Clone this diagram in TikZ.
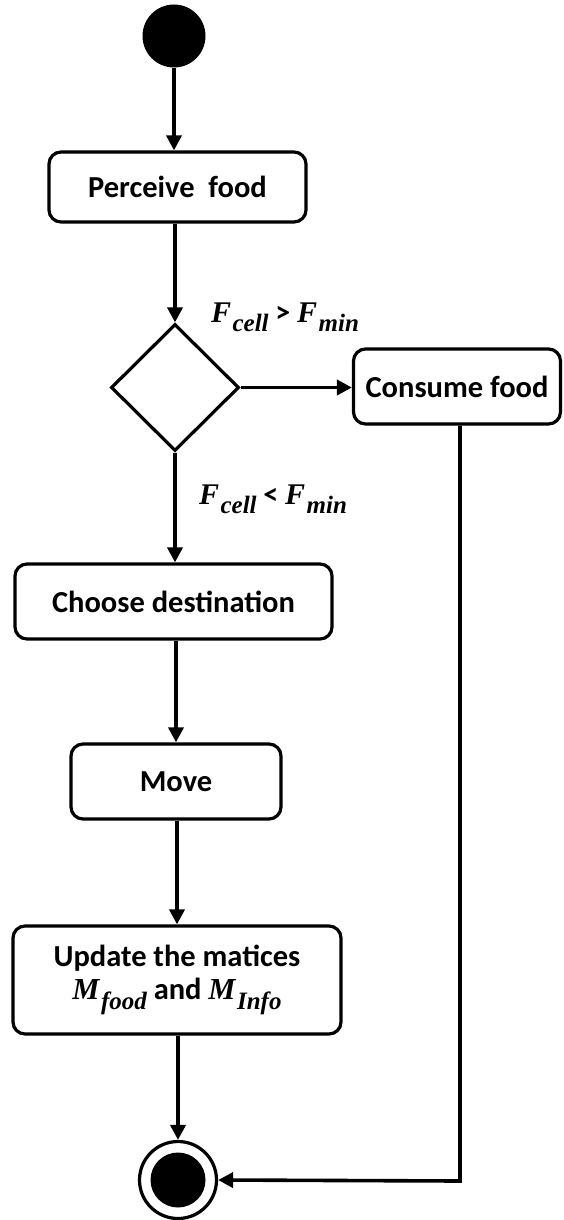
\documentclass[tikz,border=0pt]{standalone}
\usepackage{fontspec}
\setmainfont{Carlito}
\newfontfamily\mathserif{Liberation Serif}
\usetikzlibrary{shapes.geometric,arrows.meta}
\newcommand{\mvar}[2]{{\mathserif\bfseries\itshape #1\kern1.5pt\raisebox{-0.3em}{\fontsize{25}{25}\selectfont #2}}}
\tikzset{
  box/.style={draw, line width=3.2pt, rounded corners=12pt, align=center,
    font=\fontsize{30.5}{36}\selectfont\bfseries, inner sep=0pt},
  flow/.style={line width=3.6pt, -{Triangle[length=15pt,width=15pt]}},
  lbl/.style={font=\fontsize{30}{32}\selectfont\bfseries, inner sep=0pt},
}
\begin{document}
\begin{tikzpicture}[x=1pt,y=-1pt]
\useasboundingbox (0,0) rectangle (563,1220);
\node[circle, fill=black, minimum size=63pt, inner sep=0pt] (start) at (174,36) {};
\node[box, minimum width=257pt, minimum height=70pt] (perceive) at (177.5,187) {Perceive\ \ food};
\node[draw, diamond, line width=3.2pt, minimum width=128pt, minimum height=127pt, inner sep=0pt] (dec) at (175,387.5) {};
\node[box, minimum width=207pt, minimum height=75pt] (consume) at (457,386.5) {Consume food};
\node[box, minimum width=317pt, minimum height=75pt] (choose) at (173.5,601.5) {Choose destination};
\node[box, minimum width=210pt, minimum height=75pt] (move) at (176,781.5) {Move};
\node[box, minimum width=328pt, minimum height=108pt] (update) at (177,980) {Update the matices\\[-3pt]\mvar{M}{food} and \mvar{M}{Info}};
\node[circle, draw, line width=3.2pt, minimum size=77pt, inner sep=0pt] (end) at (178,1180) {};
\node[circle, fill=black, minimum size=55pt, inner sep=0pt] (endin) at (end.center) {};
\node[lbl] (l1) at (285,317) {\mvar{F}{cell} > \mvar{F}{min}};
\node[lbl] (l2) at (273,499) {\mvar{F}{cell} < \mvar{F}{min}};
\coordinate (corner) at (460,1181);
\draw[flow] (start) -- (start |- perceive.north);
\draw[flow] (dec.north |- perceive.south) -- (dec.north);
\draw[flow] (dec.east) -- (consume.west |- dec.east);
\draw[flow] (dec.south) -- (dec.south |- choose.north);
\draw[flow] (move.north |- choose.south) -- (move.north);
\draw[flow] (update.north |- move.south) -- (update.north);
\draw[flow] (end.north |- update.south) -- (end.north);
\draw[flow] (corner |- consume.south) -- (corner) -- (end.east);
\end{tikzpicture}
\end{document}
